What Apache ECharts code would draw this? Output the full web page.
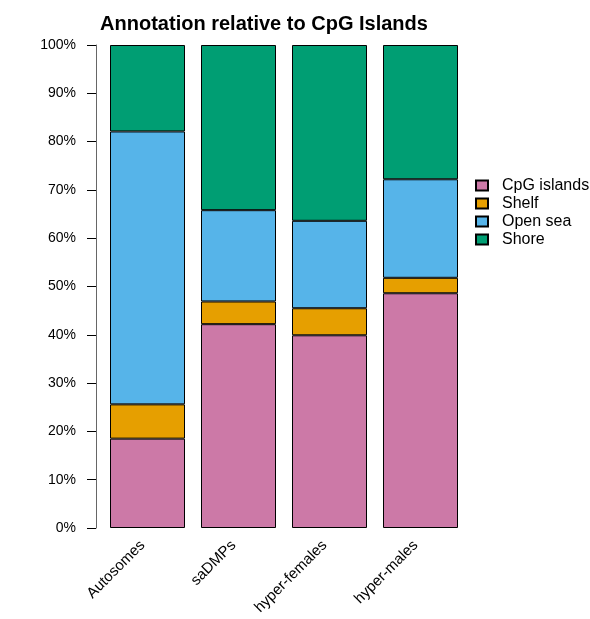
<!DOCTYPE html>
<html>
<head>
<meta charset="utf-8">
<script src="https://cdn.jsdelivr.net/npm/echarts@6/dist/echarts.min.js"></script>
<style>
  html, body { margin: 0; padding: 0; background: #fff; }
  #chart { width: 590px; height: 619px; }
</style>
</head>
<body>
<div id="chart"></div>
<script>
// Share (%) of sites in each CpG-island annotation class, per group
const categories = ['Autosomes', 'saDMPs', 'hyper-females', 'hyper-males'];
const cpgIslands = [18.5, 42.2, 39.9, 48.6];
const shelf      = [7.1, 4.7, 5.6, 3.2];
const openSea    = [56.5, 18.9, 18.1, 20.4];
const shore      = [17.9, 34.2, 36.4, 27.8];
const yTicks     = [0, 10, 20, 30, 40, 50, 60, 70, 80, 90, 100];

const FONT = '"Liberation Sans", Arial, Helvetica, sans-serif';

const seriesDefs = [
  { name: 'CpG islands', data: cpgIslands, color: '#CC79A7' },
  { name: 'Shelf',       data: shelf,      color: '#E69F00' },
  { name: 'Open sea',    data: openSea,    color: '#56B4E9' },
  { name: 'Shore',       data: shore,      color: '#009E73' }
];

const chart = echarts.init(document.getElementById('chart'), null, { renderer: 'canvas' });

chart.setOption({
  backgroundColor: '#ffffff',
  animation: false,
  textStyle: { fontFamily: FONT },
  graphic: [{
    type: 'text',
    x: 264,
    y: 24,
    style: {
      text: 'Annotation relative to CpG Islands',
      font: 'bold 20px ' + FONT,
      fill: '#000',
      textAlign: 'center',
      textVerticalAlign: 'middle'
    }
  }],
  grid: { left: 102, right: 124, top: 45, bottom: 91, containLabel: false },
  legend: {
    orient: 'vertical',
    left: 475,
    top: 177.5,
    padding: 0,
    itemWidth: 12,
    itemHeight: 10,
    itemGap: 2,
    icon: 'rect',
    textStyle: { fontFamily: FONT, fontSize: 16, color: '#000', padding: [0, 0, 0, 9] },
    data: seriesDefs.map(s => s.name)
  },
  xAxis: {
    type: 'category',
    data: categories,
    axisLine: { show: false },
    axisTick: { show: false },
    axisLabel: {
      rotate: 45,
      margin: 10,
      padding: [0, 7, 0, 0],
      fontSize: 15,
      color: '#000',
      fontFamily: FONT,
      interval: 0
    }
  },
  yAxis: {
    type: 'value',
    min: yTicks[0],
    max: yTicks[yTicks.length - 1],
    interval: 10,
    offset: 6,
    axisLine: { show: true, lineStyle: { color: '#666', width: 1 } },
    axisTick: { show: true, length: 9, lineStyle: { color: '#000', width: 1 } },
    splitLine: { show: false },
    axisLabel: {
      margin: 20,
      fontSize: 14,
      color: '#000',
      fontFamily: FONT,
      formatter: '{value}%'
    }
  },
  series: seriesDefs.map(s => ({
    name: s.name,
    type: 'bar',
    stack: 'total',
    data: s.data,
    barWidth: 75,
    itemStyle: { color: s.color, borderColor: '#000', borderWidth: 1 },
    emphasis: { disabled: true }
  }))
});
</script>
</body>
</html>
